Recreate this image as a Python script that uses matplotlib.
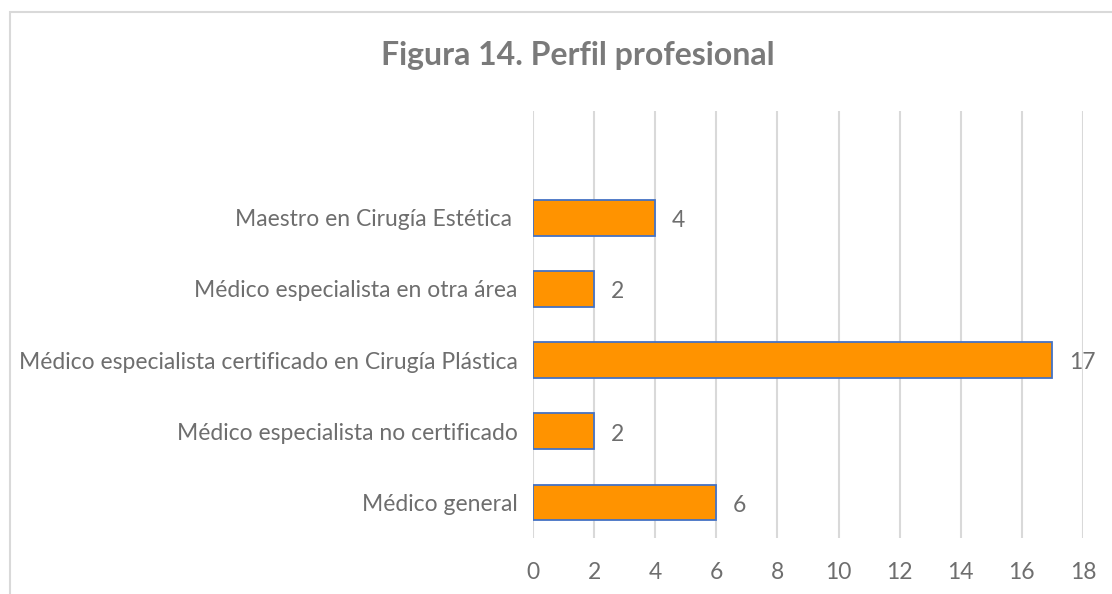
import matplotlib
matplotlib.use("Agg")
import matplotlib.pyplot as plt
from matplotlib.patches import Rectangle

categories = [
    "Médico general",
    "Médico especialista no certificado",
    "Médico especialista certificado en Cirugía Plástica",
    "Médico especialista en otra área",
    "Maestro en Cirugía Estética ",
]
values = [6, 2, 17, 2, 4]
xticks = [0, 2, 4, 6, 8, 10, 12, 14, 16, 18]

plt.rcParams['font.family'] = ['Lato', 'DejaVu Sans']
gray = '#6e6e6e'

fig = plt.figure(figsize=(11.12, 5.94), dpi=100)
W, H = 1112, 594
ax = fig.add_axes([533 / W, 1 - 538 / H, (1083 - 533) / W, (538 - 111) / H])

pos = list(range(len(categories)))
ax.barh(pos, values, height=0.5, color='#FF9300', edgecolor='#4472C4', linewidth=1.3, zorder=3)
for p, v in zip(pos, values):
    ax.annotate(str(v), (v, p), xytext=(12, -2), textcoords='offset points',
                va='center', ha='left', fontsize=16.5, color=gray)

ax.set_xlim(0, 18)
ax.set_ylim(-0.5, 5.5)
ax.set_xticks(xticks)
ax.set_yticks(pos)
ax.set_yticklabels(categories)
ax.tick_params(axis='both', length=0, labelsize=16.5, labelcolor=gray)
ax.tick_params(axis='y', pad=11)
ax.tick_params(axis='x', pad=17)
ax.grid(axis='x', color='#d9d9d9', linewidth=1.5, zorder=0)
ax.set_axisbelow(True)
for s in ax.spines.values():
    s.set_visible(False)

fig.text(578 / W, 1 - 56 / H, "Figura 14. Perfil profesional", ha='center', va='center',
         fontsize=23, fontweight='bold', color='#7a7a7a')

fig.patches.append(Rectangle((9.5 / W, -0.1), 1.2, 1.1 - 12.5 / H, transform=fig.transFigure,
                             fill=False, edgecolor='#d9d9d9', linewidth=1.5))

fig.savefig("out.png", dpi=100)
